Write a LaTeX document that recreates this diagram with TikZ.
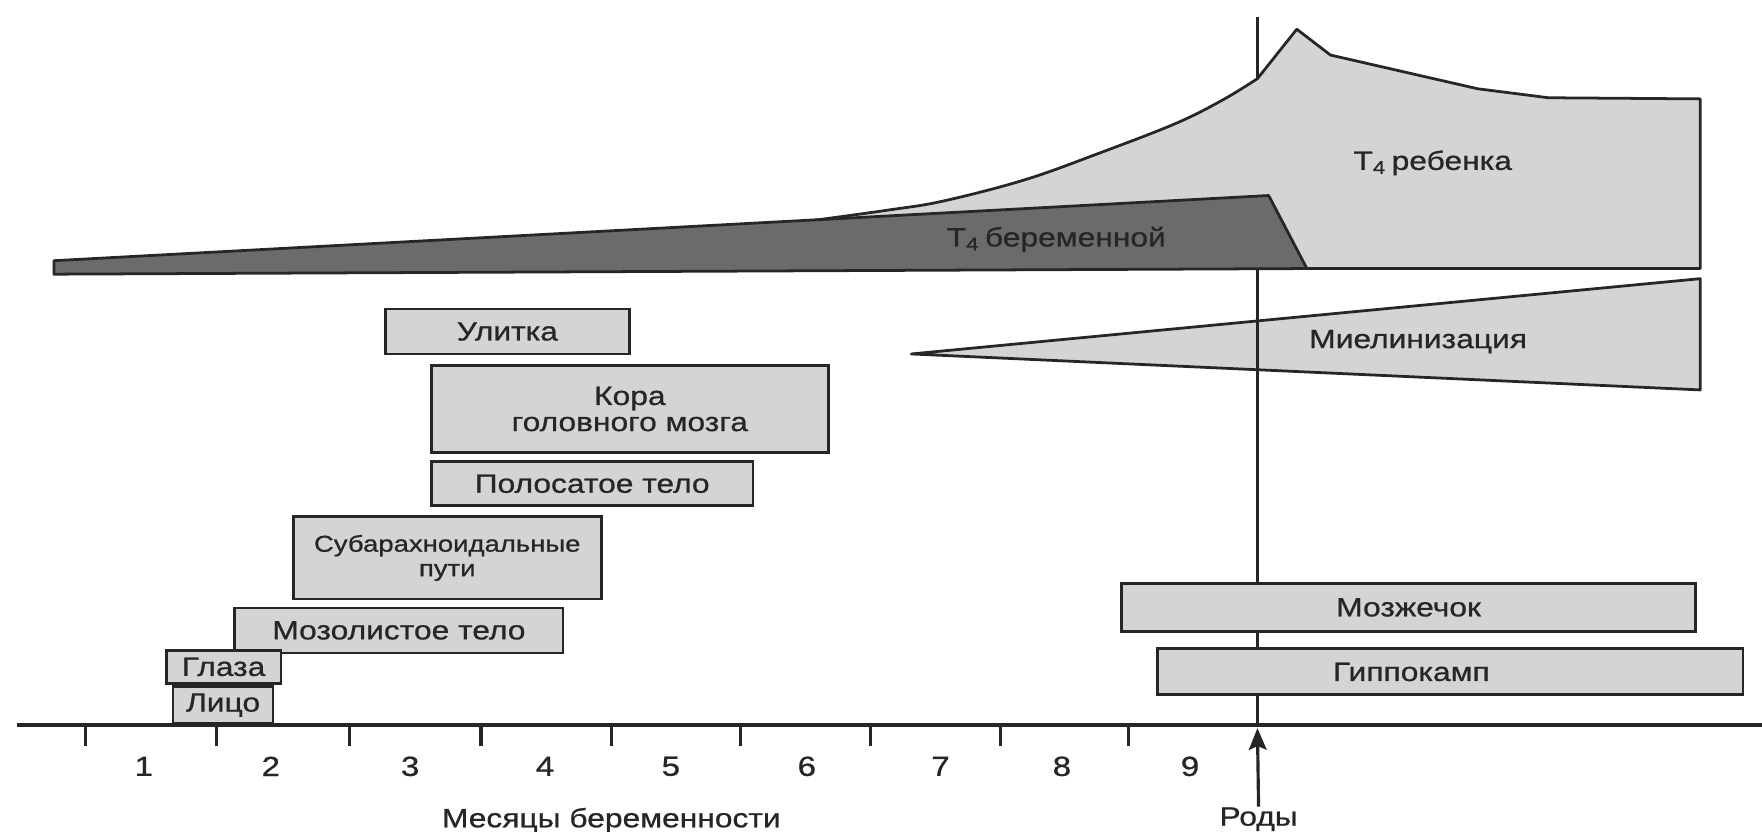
\documentclass[tikz,border=0pt]{standalone}
\usepackage{fontspec}
\setmainfont[FakeStretch=1.2,FakeBold=0.8]{Liberation Sans}
\usetikzlibrary{arrows.meta}
\definecolor{lightfill}{gray}{0.83}
\definecolor{darkfill}{gray}{0.42}
\definecolor{ink}{gray}{0.15}
\tikzset{
  lab/.style={font=\fontsize{6.7}{6.6}\selectfont, text=ink, inner sep=0pt, align=center},
  smalllab/.style={font=\fontsize{5.8}{6.2}\selectfont},
  bar/.style={draw=ink, fill=lightfill, line width=0.7pt, inner sep=0pt, lab},
  shapeline/.style={draw=ink, line width=0.7pt, line join=round},
  axisline/.style={draw=ink, line width=0.9pt},
  tickline/.style={draw=ink, line width=0.8pt},
  num/.style={font=\fontsize{7}{8}\selectfont, text=ink, inner sep=0pt},
}
\begin{document}
\begin{tikzpicture}[x=0.01cm, y=-0.01cm]
\useasboundingbox (0,0) rectangle (1568,740);
% myelination
\filldraw[shapeline, fill=lightfill] (811,315) -- (1513,248) -- (1513,347) -- cycle;
\node[lab] (myel) at (1262,304) {Миелинизация};
% birth line
\coordinate (btop) at (1119,15);
\coordinate (bbot) at (1119,645);
\draw[ink, line width=0.6pt] (btop) -- (bbot);
% T4 of the child
\filldraw[shapeline, fill=lightfill] plot[smooth, tension=0.6] coordinates {(725,196) (790,187) (839,179) (912,160) (979,136) (1046,110) (1088,89) (1119,70)} -- (1154,26) -- (1184,49) -- (1315,79) -- (1378,87) -- (1513,88) -- (1513,239) -- (1150,239) -- cycle;
% T4 of the mother
\filldraw[shapeline, fill=darkfill] (48,232) -- (1129,174) -- (1163,239) -- (48,244) -- cycle;
\node[lab] (t4child) at (1275,145) {T\textsubscript{4}\,ребенка};
\node[lab] (t4mother) at (940,213) {T\textsubscript{4}\,беременной};
% bars
\node[bar, minimum width=2.17cm, minimum height=0.40cm] (ul) at (451.5,295) {Улитка};
\node[bar, minimum width=3.53cm, minimum height=0.78cm] (kora) at (560.5,364) {Кора\\головного мозга};
\node[bar, minimum width=2.86cm, minimum height=0.39cm] (pol) at (527,430.5) {Полосатое тело};
\node[bar, smalllab, minimum width=2.74cm, minimum height=0.73cm] (sub) at (398,496.5) {Субарахноидальные\\пути};
\node[bar, minimum width=2.92cm, minimum height=0.40cm] (moz) at (355,561) {Мозолистое тело};
\node[bar, minimum width=1.02cm, minimum height=0.29cm] (glaz) at (199,593.5) {Глаза};
\node[bar, minimum width=0.89cm, minimum height=0.33cm] (lic) at (198.5,627.5) {Лицо};
\node[bar, minimum width=5.11cm, minimum height=0.43cm] (mzh) at (1253.5,540.5) {Мозжечок};
\draw[ink, fill=lightfill, line width=0.7pt] (1030,577) rectangle (1551,618);
\node[lab] (gip) at (1256,598) {Гиппокамп};
% axis
\draw[axisline] (15,645) -- (1568,645);
\foreach \tx in {76,193,311,428,544,659,775,890,1004} \draw[tickline] (\tx,645) -- (\tx,664);
\foreach \lx/\ln in {128/1,241/2,365/3,485/4,597/5,718/6,837/7,945/8,1059/9}
  \node[num] (m\ln) at (\lx,682) {\ln};
\node[lab] (months) at (544,730) {Месяцы беременности};
\node[lab] (rody) at (1120,729) {Роды};
\coordinate (atip) at (1119,648);
\draw[ink, line width=0.8pt, -{Stealth[length=5.5pt,width=4.5pt,inset=1pt]}] (rody.north) -- (atip);
\end{tikzpicture}
\end{document}
